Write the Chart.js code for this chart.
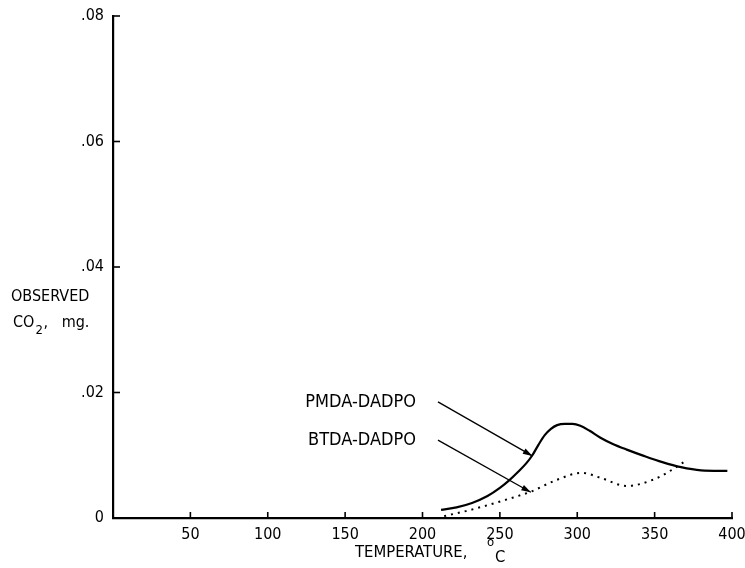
<!DOCTYPE html>
<html>
<head>
<meta charset="utf-8">
<script src="https://cdn.jsdelivr.net/npm/chart.js@4.4.0/dist/chart.umd.min.js"></script>
<style>
  html, body { margin: 0; padding: 0; background: #fff; }
  #wrap { width: 745px; height: 568px; position: relative; }
</style>
</head>
<body>
<div id="wrap"><canvas id="co2Chart"></canvas></div>
<script>
// temperature (deg C) and observed CO2 (mg)
const pmdaTemps  = [212, 222, 232, 242, 250, 256, 262, 267, 271, 275, 279, 283, 287, 292, 297, 302, 308, 315, 323, 332, 343, 355, 367, 380, 397];
const pmdaValues = [0.0013, 0.0017, 0.0024, 0.0035, 0.0048, 0.0060, 0.0074, 0.0087, 0.0100, 0.0117, 0.0132, 0.0142, 0.0148, 0.0150, 0.0150, 0.0147, 0.0139, 0.0128, 0.0118, 0.0109, 0.0099, 0.0089, 0.0081, 0.0076, 0.0075];

const btdaTemps  = [214, 228, 240, 255, 270, 287, 303, 315, 332, 349, 360, 370];
const btdaValues = [0.0003, 0.0011, 0.0019, 0.0030, 0.0042, 0.0061, 0.0072, 0.0064, 0.0051, 0.0061, 0.0075, 0.0091];

const xTicks = [50, 100, 150, 200, 250, 300, 350, 400];
const yTicks = [0.02, 0.04, 0.06, 0.08];

// labels with arrow start / end in data units
const callouts = [
    { text: 'PMDA-DADPO', from: [210, 0.0185], to: [271, 0.0099] },
    { text: 'BTDA-DADPO', from: [210, 0.0124], to: [270, 0.0041] }
];

const FONT = "'Liberation Sans Narrow', 'DejaVu Sans Condensed', sans-serif";

function toPoints(xs, ys) {
    return xs.map((x, i) => ({ x: x, y: ys[i] }));
}

function drawArrow(ctx, x1, y1, x2, y2) {
    ctx.beginPath();
    ctx.moveTo(x1, y1);
    ctx.lineTo(x2, y2);
    ctx.stroke();
    const a = Math.atan2(y2 - y1, x2 - x1);
    const len = 10, w = 0.3;
    ctx.beginPath();
    ctx.moveTo(x2, y2);
    ctx.lineTo(x2 - len * Math.cos(a - w), y2 - len * Math.sin(a - w));
    ctx.lineTo(x2 - len * Math.cos(a + w), y2 - len * Math.sin(a + w));
    ctx.closePath();
    ctx.fill();
}

const decorations = {
    id: 'decorations',
    afterDraw(chart) {
        const ctx = chart.ctx;
        const xs = chart.scales.x, ys = chart.scales.y;
        const y0 = ys.getPixelForValue(0);
        ctx.save();
        ctx.strokeStyle = '#000';
        ctx.fillStyle = '#000';
        ctx.lineWidth = 1.6;

        // inward tick marks
        xTicks.forEach(t => {
            const px = xs.getPixelForValue(t);
            ctx.beginPath();
            ctx.moveTo(px, y0);
            ctx.lineTo(px, y0 - 6);
            ctx.stroke();
        });
        yTicks.forEach(t => {
            const py = ys.getPixelForValue(t);
            ctx.beginPath();
            ctx.moveTo(chart.chartArea.left, py);
            ctx.lineTo(chart.chartArea.left + 7, py);
            ctx.stroke();
        });

        // callouts
        ctx.lineWidth = 1.3;
        ctx.font = '18px ' + FONT;
        ctx.textAlign = 'right';
        ctx.textBaseline = 'middle';
        callouts.forEach(c => {
            const fx = xs.getPixelForValue(c.from[0]), fy = ys.getPixelForValue(c.from[1]);
            const tx = xs.getPixelForValue(c.to[0]), ty = ys.getPixelForValue(c.to[1]);
            ctx.fillText(c.text, fx - 22, fy);
            drawArrow(ctx, fx, fy, tx, ty);
        });

        // axis titles
        ctx.textAlign = 'left';
        ctx.font = '16px ' + FONT;
        ctx.fillText('OBSERVED', 11, 297);
        ctx.fillText('CO', 13, 323);
        const coW = ctx.measureText('CO').width;
        ctx.font = '13px ' + FONT;
        ctx.fillText('2', 13 + coW + 1, 331);
        ctx.font = '16px ' + FONT;
        ctx.fillText(',   mg.', 13 + coW + 9, 323);

        ctx.font = '16.5px ' + FONT;
        ctx.fillText('TEMPERATURE,', 355, 553);
        ctx.font = '13px ' + FONT;
        ctx.fillText('o', 487, 543);
        ctx.font = '16.5px ' + FONT;
        ctx.fillText('C', 495, 558);
        ctx.restore();
    }
};

new Chart(document.getElementById('co2Chart'), {
    type: 'line',
    data: {
        datasets: [
            {
                label: 'PMDA-DADPO',
                data: toPoints(pmdaTemps, pmdaValues),
                borderColor: '#000',
                borderWidth: 2.2,
                pointRadius: 0,
                fill: false,
                cubicInterpolationMode: 'monotone'
            },
            {
                label: 'BTDA-DADPO',
                data: toPoints(btdaTemps, btdaValues),
                borderColor: '#000',
                borderWidth: 2,
                borderDash: [2, 5],
                pointRadius: 0,
                fill: false,
                cubicInterpolationMode: 'monotone'
            }
        ]
    },
    options: {
        responsive: true,
        maintainAspectRatio: false,
        animation: false,
        layout: { padding: { top: 16, right: 13, left: 0, bottom: 0 } },
        plugins: {
            legend: { display: false },
            tooltip: { enabled: false }
        },
        scales: {
            x: {
                type: 'linear',
                min: 0,
                max: 400,
                afterBuildTicks: axis => { axis.ticks = xTicks.map(v => ({ value: v })); },
                afterFit: axis => { axis.height = 50; axis.paddingLeft = 0; axis.paddingRight = 0; },
                grid: { display: false, drawTicks: false },
                border: { display: true, color: '#000', width: 2.2 },
                ticks: {
                    color: '#000',
                    padding: 7,
                    maxRotation: 0,
                    font: { family: FONT, size: 16 },
                    callback: v => String(v)
                }
            },
            y: {
                min: 0,
                max: 0.08,
                afterBuildTicks: axis => { axis.ticks = [0].concat(yTicks).map(v => ({ value: v })); },
                afterFit: axis => { axis.width = 113; axis.paddingTop = 0; axis.paddingBottom = 0; },
                grid: { display: false, drawTicks: false },
                border: { display: true, color: '#000', width: 2.2 },
                ticks: {
                    color: '#000',
                    padding: 9,
                    font: { family: FONT, size: 16 },
                    callback: v => v === 0 ? '0' : '.' + v.toFixed(2).split('.')[1]
                }
            }
        }
    },
    plugins: [decorations]
});
</script>
</body>
</html>
